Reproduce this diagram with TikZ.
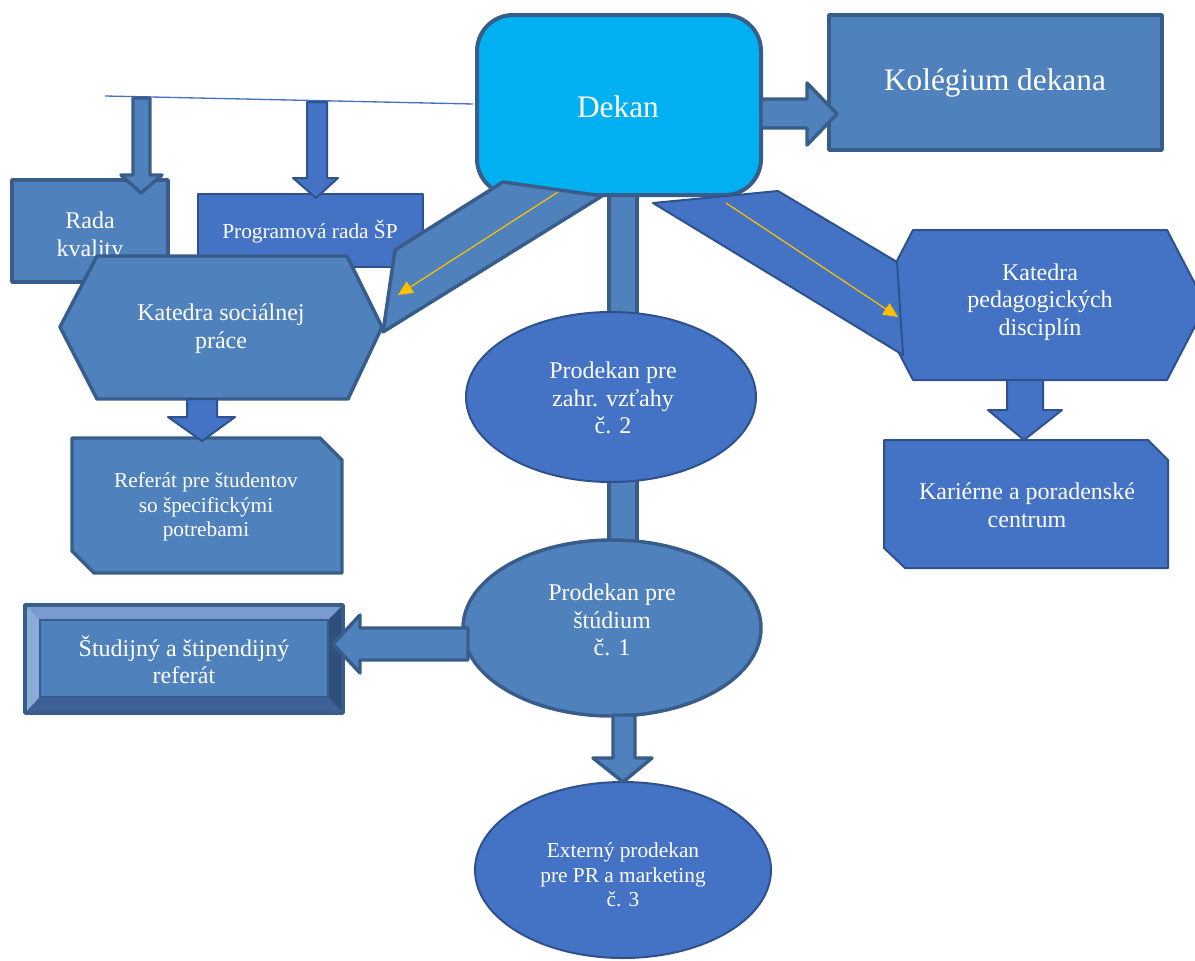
\documentclass[tikz,border=0pt]{standalone}
\usepackage{fontspec}
\setmainfont{Liberation Serif}
\usetikzlibrary{arrows.meta}

\definecolor{steel}{RGB}{79,129,189}
\definecolor{royal}{RGB}{68,114,196}
\definecolor{steelline}{RGB}{56,93,138}
\definecolor{royalline}{RGB}{47,82,143}
\definecolor{dekancyan}{RGB}{0,176,240}
\definecolor{hintgold}{RGB}{255,192,0}
\definecolor{bevellight}{RGB}{120,156,208}
\definecolor{bevelpale}{RGB}{140,172,216}
\definecolor{beveldark}{RGB}{47,79,124}
\definecolor{bevelmid}{RGB}{60,97,150}

\tikzset{every picture/.style={line width=0.75pt}}
\tikzset{
  steelshape/.style={fill=steel, draw=steelline, line width=2.6pt, line join=round},
  royalshape/.style={fill=royal, draw=royalline, line width=1.5pt, line join=round},
  hint/.style={draw=hintgold, line width=0.9pt, -{Triangle[length=11, width=10]}},
  lbl/.style={text=white, align=center, inner sep=0.75pt, font=\fontsize{18}{20.7}\selectfont},
  smalllbl/.style={lbl, font=\fontsize{16}{18.4}\selectfont},
  biglbl/.style={lbl, font=\fontsize{23.5}{27}\selectfont}
}

\begin{document}
\begin{tikzpicture}[x=0.75pt,y=0.75pt,yscale=-1,xscale=1]
\useasboundingbox (0,0) rectangle (1195,960);

%Straight Lines [id:bar]
\coordinate (barL) at (105,96);
\coordinate (barR) at (473,104);
\draw [color=royal, line width=1pt]  (barL) -- (barR) ;

%Shape: Rectangle [id:radakvality]
\draw  [steelshape]  (12,180) rectangle (168,282) ;
\draw (90,237) node [lbl] (radakv) {Rada\\kvality};
%Shape: Rectangle [id:programova]
\draw  [royalshape]  (198,194) rectangle (423,267) ;
\draw (310,232) node [smalllbl] (prograda) {Programová rada ŠP};

%Shape: Down Arrow [id:radaarrow]
\draw  [steelshape]  (133,98) -- (150,98) -- (150,175) -- (162,175) -- (141,193) -- (121,175) -- (133,175) -- cycle ;
%Shape: Down Arrow [id:progarrow]
\draw  [royalshape]  (307,102) -- (327,102) -- (327,178) -- (338,178) -- (316,198) -- (293,178) -- (307,178) -- cycle ;

%Shape: Hexagon [id:katsoc]
\draw  [steelshape]  (97,256) -- (347,256) -- (382,327) -- (348,399) -- (97,399) -- (60,327) -- cycle ;

%Shape: Rectangle [id:stem]
\draw  [steelshape]  (609,185) rectangle (637,600) ;
%Shape: Rounded Rect [id:dekan]
\draw  [fill=dekancyan, draw=steelline, line width=3pt, rounded corners=27pt]  (477,15) rectangle (761,195) ;

%Shape: Ellipse [id:zahr]
\draw  [royalshape]  (611,397) ellipse [x radius=145, y radius=85] ;
%Shape: Ellipse [id:studium]
\draw  [steelshape]  (612,628) ellipse [x radius=149, y radius=88] ;
%Shape: Ellipse [id:externy]
\draw  [royalshape]  (623,870) ellipse [x radius=148, y radius=88] ;

%Shape: Polygon [id:leftband]
\draw  [steelshape]  (503,182) -- (602,196) -- (383,332) -- (395,250) -- cycle ;
%Shape: Hexagon [id:katped]
\draw  [royalshape]  (913,230) -- (1167,230) -- (1206,305) -- (1167,380) -- (913,380) -- (874,305) -- cycle ;
%Shape: Polygon [id:rightband]
\draw  [royalshape]  (653,203) -- (778,191) -- (897,262) -- (903,355) -- cycle ;

%Straight Lines [id:hintleft]
\coordinate (hintLa) at (558,192);
\coordinate (hintLb) at (398,295);
\draw [hint]  (hintLa) -- (hintLb) ;
%Straight Lines [id:hintright]
\coordinate (hintRa) at (726,203);
\coordinate (hintRb) at (898,317);
\draw [hint]  (hintRa) -- (hintRb) ;

%Shape: Rectangle [id:kolegium]
\draw  [steelshape]  (829,15) rectangle (1162,150) ;
%Shape: Right Arrow [id:kolarrow]
\draw  [steelshape]  (761,99) -- (807,99) -- (807,83) -- (837,114) -- (807,145) -- (807,128) -- (761,128) -- cycle ;

%Shape: Snip Rect [id:referat]
\draw  [steelshape]  (72,438) -- (320,438) -- (342,460) -- (342,573) -- (94,573) -- (72,551) -- cycle ;
%Shape: Down Arrow [id:refarrow]
\draw  [royalshape]  (187,399) -- (217,399) -- (217,417) -- (235,417) -- (202,441) -- (168,417) -- (187,417) -- cycle ;

%Shape: Snip Rect [id:kariera]
\draw  [royalshape]  (884,440) -- (1148,440) -- (1168,460) -- (1168,568) -- (905,568) -- (884,548) -- cycle ;
%Shape: Down Arrow [id:kararrow]
\draw  [royalshape]  (1007,380) -- (1043,380) -- (1043,410) -- (1062,410) -- (1024,440) -- (988,410) -- (1007,410) -- cycle ;

%Shape: Bevel [id:studref]
\fill  [steel]  (25,605) rectangle (343,713) ;
\fill  [bevellight]  (25,605) -- (343,605) -- (328,620) -- (40,620) -- cycle ;
\fill  [bevelpale]  (25,605) -- (40,620) -- (40,697) -- (25,713) -- cycle ;
\fill  [beveldark]  (343,605) -- (343,713) -- (328,697) -- (328,620) -- cycle ;
\fill  [bevelmid]  (25,713) -- (343,713) -- (328,697) -- (40,697) -- cycle ;
\draw  [draw=steelline, line width=1pt]  (40,620) rectangle (328,697) ;
\draw  [draw=steelline, line width=2.6pt, line join=round]  (25,605) rectangle (343,713) ;
%Shape: Left Arrow [id:studarrow]
\draw  [steelshape]  (468,628) -- (360,628) -- (360,615) -- (333,644) -- (360,673) -- (360,660) -- (468,660) -- cycle ;
%Shape: Down Arrow [id:extarrow]
\draw  [steelshape]  (613,715) -- (635,715) -- (635,758) -- (652,758) -- (623,782) -- (593,758) -- (613,758) -- cycle ;

% Text Node
\draw (618,107) node [biglbl] (dekan) {Dekan};
% Text Node
\draw (995,83) node [biglbl] (kolegium) {Kolégium dekana};
% Text Node
\draw (221,329) node [lbl] (katsoc) {Katedra sociálnej\\práce};
% Text Node
\draw (206,507) node [smalllbl] (referat) {Referát pre študentov\\so špecifickými\\potrebami};
% Text Node
\draw (184,660) node [lbl] (studref) {Študijný a štipendijný\\referát};
% Text Node
\draw (613,398) node [lbl] (zahr) {Prodekan pre\\zahr. vzťahy\\č. 2};
% Text Node
\draw (612,620) node [lbl] (studium) {Prodekan pre\\štúdium\\č. 1};
% Text Node
\draw (623,875) node [smalllbl] (externy) {Externý prodekan\\pre PR a marketing\\č. 3};
% Text Node
\draw (1040,302) node [lbl] (katped) {Katedra\\pedagogických\\disciplín};
% Text Node
\draw (1027,505) node [lbl] (kariera) {Kariérne a poradenské\\centrum};

\end{tikzpicture}
\end{document}
